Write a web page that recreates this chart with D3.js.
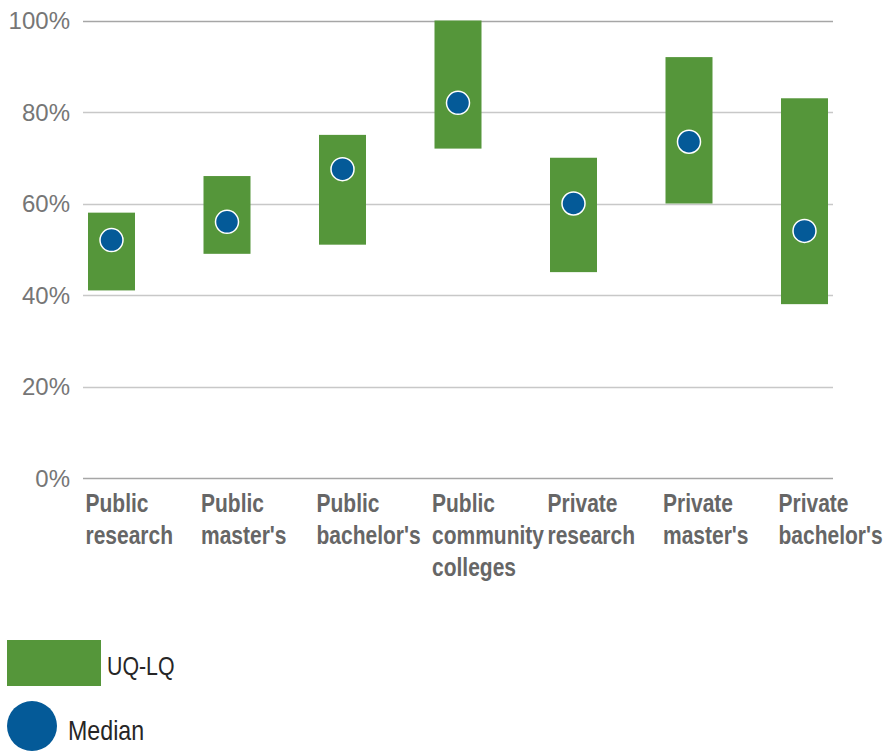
<!DOCTYPE html>
<html>
<head>
<meta charset="utf-8">
<script src="https://cdn.jsdelivr.net/npm/d3@7"></script>
<style>
  body { margin: 0; background: #fff; }
  #chart { width: 885px; height: 752px; }
  text { font-family: "Liberation Sans", Arial, sans-serif; }
</style>
</head>
<body>
<div id="chart"></div>
<script>
// sector categories, split into lines as in the original
const categories = [
    ["Public", "research"],
    ["Public", "master's"],
    ["Public", "bachelor's"],
    ["Public", "community", "colleges"],
    ["Private", "research"],
    ["Private", "master's"],
    ["Private", "bachelor's"]
];
const lowerQuartile = [41, 49, 51, 72, 45, 60, 38];
const upperQuartile = [58, 66, 75, 100, 70, 92, 83];
const medians = [52, 56, 67.5, 82, 60, 73.5, 54];
const yTicks = [0, 20, 40, 60, 80, 100];

const green = '#55963a';
const blue = '#045a98';

// the original uses a condensed face; squeeze Liberation Sans horizontally
const narrow = 0.84;

const svg = d3.select('#chart')
    .append('svg')
    .attr('width', 885)
    .attr('height', 752);

const keys = categories.map(c => c.join(' '));

const x = d3.scalePoint()
    .domain(keys)
    .range([53.75, 862.25])
    .padding(0.5);

const y = d3.scaleLinear()
    .domain([0, 100])
    .range([478, 20.5]);

const gridLeft = 83, gridRight = 833;

// Gridlines
svg.append('g')
    .selectAll('line')
    .data(yTicks)
    .join('line')
    .attr('x1', gridLeft)
    .attr('x2', gridRight)
    .attr('y1', d => Math.round(y(d)) + 0.5)
    .attr('y2', d => Math.round(y(d)) + 0.5)
    .attr('stroke', d => (d === 0 || d === 100) ? '#a6a6a6' : '#c8c8c8')
    .attr('stroke-width', 1.5);

// Y labels
svg.append('g')
    .selectAll('text')
    .data(yTicks)
    .join('text')
    .attr('x', 70)
    .attr('y', d => y(d) + 8.5)
    .attr('text-anchor', 'end')
    .attr('fill', '#767676')
    .style('font-size', '24px')
    .text(d => d + '%');

const barWidth = 47;

// UQ-LQ bars
svg.append('g')
    .selectAll('rect')
    .data(keys)
    .join('rect')
    .attr('x', d => x(d) - barWidth / 2)
    .attr('width', barWidth)
    .attr('y', (d, i) => y(upperQuartile[i]))
    .attr('height', (d, i) => y(lowerQuartile[i]) - y(upperQuartile[i]))
    .attr('fill', green);

// Median dots
svg.append('g')
    .selectAll('circle')
    .data(keys)
    .join('circle')
    .attr('cx', d => x(d))
    .attr('cy', (d, i) => y(medians[i]))
    .attr('r', 11.5)
    .attr('fill', blue)
    .attr('stroke', '#fff')
    .attr('stroke-width', 1.5);

// Category labels
const catLabels = svg.append('g')
    .selectAll('g')
    .data(categories)
    .join('g')
    .attr('transform', (d, i) => `translate(${x(keys[i]) - 26},512) scale(${narrow},1)`)
    .append('text')
    .attr('fill', '#666')
    .style('font-size', '25px')
    .style('font-weight', 'bold');

catLabels.selectAll('tspan')
    .data(d => d)
    .join('tspan')
    .attr('x', 0)
    .attr('dy', (d, i) => i === 0 ? 0 : 32)
    .text(d => d);

// Legend
const legend = svg.append('g');
legend.append('rect')
    .attr('x', 7).attr('y', 640)
    .attr('width', 94).attr('height', 46)
    .attr('fill', green);
legend.append('g')
    .attr('transform', 'translate(107,675) scale(0.82,1)')
    .append('text')
    .attr('fill', '#262626')
    .style('font-size', '26px')
    .text('UQ-LQ');
legend.append('circle')
    .attr('cx', 32).attr('cy', 726)
    .attr('r', 25)
    .attr('fill', blue);
legend.append('g')
    .attr('transform', 'translate(68,740) scale(0.86,1)')
    .append('text')
    .attr('fill', '#262626')
    .style('font-size', '27px')
    .text('Median');
</script>
</body>
</html>
